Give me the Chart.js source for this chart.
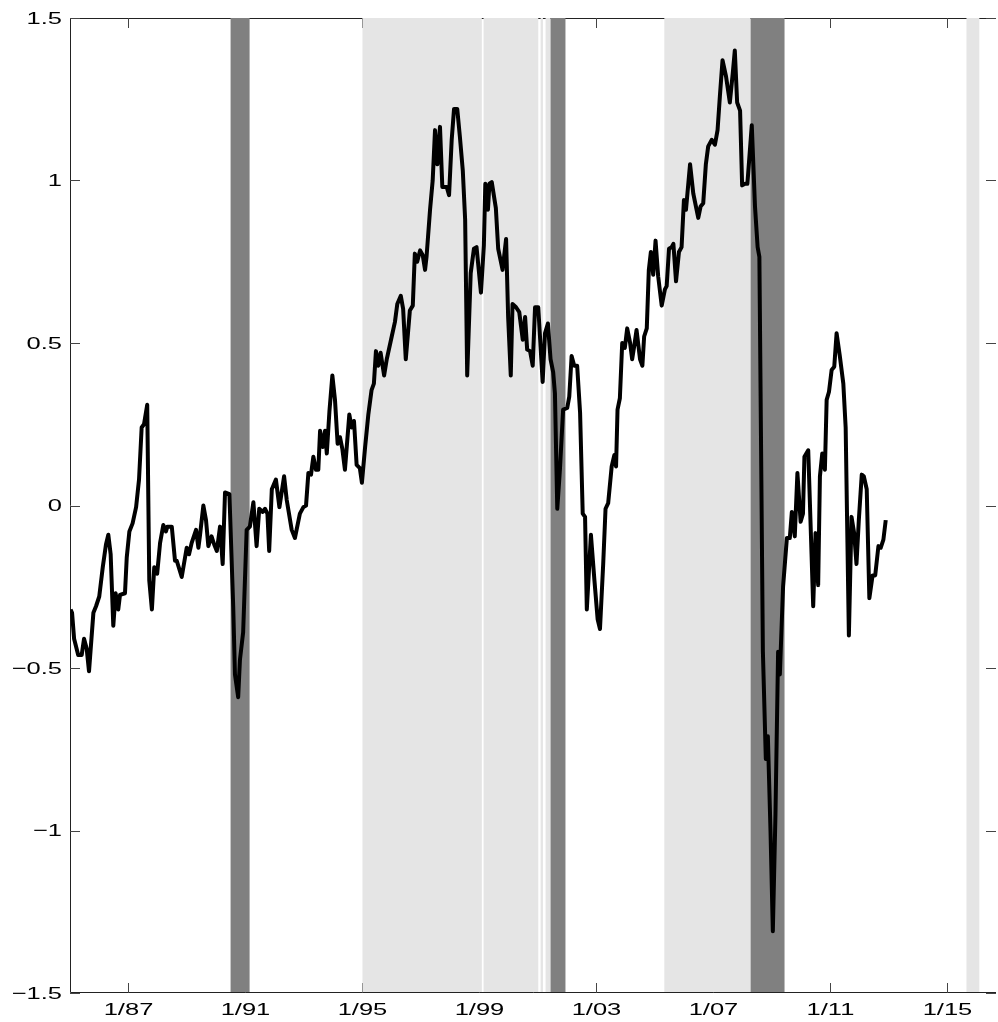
<!DOCTYPE html>
<html>
<head>
<meta charset="utf-8">
<script src="https://cdn.jsdelivr.net/npm/chart.js@4/dist/chart.umd.min.js"></script>
<style>
    html, body { margin: 0; padding: 0; background: #fff; }
    #wrap { width: 998px; height: 1022px; }
</style>
</head>
<body>
<div id="wrap"><canvas id="myChart"></canvas></div>
<script>
// series (decimal years)
const dates = [
    1985.02, 1985.07, 1985.14, 1985.28, 1985.40, 1985.48, 1985.57, 1985.65, 1985.80, 1985.89,
    1986.00, 1986.12, 1986.23, 1986.31, 1986.39, 1986.48, 1986.56, 1986.65, 1986.71, 1986.88,
    1986.94, 1987.03, 1987.14, 1987.26, 1987.36, 1987.45, 1987.53, 1987.64, 1987.71, 1987.80,
    1987.88, 1987.98, 1988.08, 1988.19, 1988.28, 1988.33, 1988.48, 1988.59, 1988.65, 1988.82,
    1988.99, 1989.07, 1989.16, 1989.31, 1989.39, 1989.44, 1989.56, 1989.65, 1989.73, 1989.84,
    1989.93, 1990.02, 1990.13, 1990.22, 1990.30, 1990.45, 1990.58, 1990.64, 1990.75, 1990.81,
    1990.92, 1991.04, 1991.15, 1991.27, 1991.38, 1991.47, 1991.59, 1991.67, 1991.75, 1991.81,
    1991.90, 1992.04, 1992.16, 1992.32, 1992.41, 1992.58, 1992.69, 1992.86, 1992.98, 1993.07,
    1993.15, 1993.24, 1993.32, 1993.41, 1993.49, 1993.55, 1993.64, 1993.72, 1993.78, 1993.87,
    1993.97, 1994.06, 1994.15, 1994.23, 1994.31, 1994.40, 1994.55, 1994.63, 1994.71, 1994.80,
    1994.91, 1994.98, 1995.09, 1995.20, 1995.31, 1995.39, 1995.46, 1995.54, 1995.62, 1995.74,
    1995.83, 1996.00, 1996.11, 1996.19, 1996.31, 1996.39, 1996.48, 1996.62, 1996.72, 1996.79,
    1996.87, 1996.97, 1997.06, 1997.14, 1997.19, 1997.31, 1997.40, 1997.48, 1997.56, 1997.65,
    1997.73, 1997.88, 1997.96, 1998.05, 1998.13, 1998.24, 1998.33, 1998.43, 1998.51, 1998.58,
    1998.70, 1998.81, 1998.90, 1999.05, 1999.15, 1999.20, 1999.29, 1999.34, 1999.42, 1999.56,
    1999.64, 1999.79, 1999.91, 1999.98, 2000.07, 2000.13, 2000.25, 2000.36, 2000.48, 2000.56,
    2000.63, 2000.73, 2000.82, 2000.90, 2001.01, 2001.16, 2001.24, 2001.34, 2001.43, 2001.52,
    2001.58, 2001.66, 2001.75, 2001.86, 2002.00, 2002.07, 2002.15, 2002.24, 2002.34, 2002.44,
    2002.53, 2002.61, 2002.67, 2002.81, 2002.93, 2003.04, 2003.12, 2003.23, 2003.31, 2003.40,
    2003.52, 2003.61, 2003.67, 2003.72, 2003.80, 2003.88, 2003.97, 2004.05, 2004.15, 2004.22,
    2004.29, 2004.37, 2004.49, 2004.57, 2004.63, 2004.72, 2004.79, 2004.86, 2004.94, 2005.02,
    2005.11, 2005.23, 2005.34, 2005.40, 2005.48, 2005.57, 2005.63, 2005.72, 2005.82, 2005.91,
    2005.99, 2006.06, 2006.14, 2006.20, 2006.31, 2006.48, 2006.56, 2006.65, 2006.74, 2006.82,
    2006.94, 2007.05, 2007.14, 2007.22, 2007.31, 2007.43, 2007.56, 2007.66, 2007.73, 2007.81,
    2007.91, 2007.98, 2008.08, 2008.16, 2008.31, 2008.42, 2008.51, 2008.57, 2008.69, 2008.79,
    2008.86, 2008.95, 2009.03, 2009.12, 2009.21, 2009.27, 2009.38, 2009.51, 2009.61, 2009.68,
    2009.78, 2009.87, 2009.98, 2010.06, 2010.11, 2010.24, 2010.41, 2010.49, 2010.58, 2010.64,
    2010.72, 2010.81, 2010.87, 2010.95, 2011.04, 2011.13, 2011.21, 2011.32, 2011.44, 2011.52,
    2011.63, 2011.72, 2011.81, 2011.89, 2011.97, 2012.07, 2012.14, 2012.24, 2012.33, 2012.44,
    2012.53, 2012.64, 2012.72, 2012.81, 2012.89
];
const values = [
    -0.32, -0.33, -0.41, -0.46, -0.46, -0.41, -0.44, -0.51, -0.33, -0.31,
    -0.28, -0.19, -0.12, -0.09, -0.15, -0.37, -0.27, -0.32, -0.275, -0.27,
    -0.16, -0.08, -0.055, -0.005, 0.08, 0.24, 0.25, 0.31, -0.23, -0.32,
    -0.19, -0.21, -0.115, -0.06, -0.08, -0.065, -0.065, -0.17, -0.17, -0.22,
    -0.13, -0.15, -0.115, -0.075, -0.13, -0.095, 0.0, -0.045, -0.125, -0.095,
    -0.12, -0.14, -0.065, -0.18, 0.04, 0.035, -0.31, -0.52, -0.59, -0.475,
    -0.39, -0.075, -0.065, 0.01, -0.125, -0.01, -0.02, -0.01, -0.025, -0.14,
    0.05, 0.08, -0.005, 0.09, 0.017, -0.075, -0.1, -0.025, -0.005, 0.0,
    0.1, 0.095, 0.15, 0.11, 0.11, 0.23, 0.18, 0.23, 0.16, 0.29,
    0.40, 0.325, 0.19, 0.21, 0.175, 0.11, 0.28, 0.24, 0.26, 0.125,
    0.115, 0.07, 0.18, 0.28, 0.355, 0.375, 0.475, 0.43, 0.47, 0.40,
    0.45, 0.52, 0.565, 0.62, 0.645, 0.605, 0.45, 0.60, 0.615, 0.775,
    0.75, 0.785, 0.77, 0.725, 0.765, 0.91, 1.0, 1.155, 1.05, 1.165,
    0.98, 0.98, 0.955, 1.125, 1.22, 1.22, 1.135, 1.03, 0.88, 0.40,
    0.715, 0.79, 0.795, 0.655, 0.80, 0.99, 0.91, 0.99, 0.995, 0.915,
    0.79, 0.725, 0.82, 0.58, 0.40, 0.62, 0.61, 0.595, 0.51, 0.58,
    0.48, 0.475, 0.43, 0.61, 0.61, 0.38, 0.53, 0.56, 0.45, 0.41,
    0.345, -0.01, 0.11, 0.295, 0.30, 0.335, 0.46, 0.43, 0.43, 0.285,
    -0.025, -0.035, -0.32, -0.09, -0.23, -0.35, -0.38, -0.18, -0.01, 0.007,
    0.12, 0.155, 0.12, 0.295, 0.33, 0.50, 0.485, 0.545, 0.50, 0.45,
    0.49, 0.54, 0.45, 0.43, 0.52, 0.545, 0.725, 0.78, 0.71, 0.815,
    0.705, 0.615, 0.665, 0.675, 0.79, 0.795, 0.805, 0.69, 0.78, 0.795,
    0.94, 0.91, 0.99, 1.05, 0.96, 0.885, 0.92, 0.93, 1.05, 1.105,
    1.125, 1.11, 1.155, 1.26, 1.37, 1.32, 1.24, 1.33, 1.40, 1.24,
    1.215, 0.985, 0.99, 0.99, 1.17, 0.92, 0.795, 0.765, -0.45, -0.78,
    -0.71, -1.0, -1.31, -0.95, -0.45, -0.52, -0.25, -0.1, -0.1, -0.02,
    -0.095, 0.10, -0.05, -0.025, 0.15, 0.17, -0.31, -0.085, -0.245, 0.09,
    0.16, 0.11, 0.325, 0.35, 0.417, 0.427, 0.53, 0.46, 0.375, 0.24,
    -0.40, -0.035, -0.085, -0.18, -0.045, 0.095, 0.09, 0.05, -0.285, -0.215,
    -0.215, -0.125, -0.13, -0.105, -0.045
];

// shaded periods
const bandStart = [1990.49, 1995.00, 1999.14, 2001.09, 2001.26, 2001.43, 2005.32, 2008.27, 2015.65];
const bandEnd   = [1991.14, 1999.08, 2001.01, 2001.17, 2001.43, 2001.94, 2008.27, 2009.43, 2016.09];
const bandShade = ['dark', 'light', 'light', 'light', 'light', 'dark', 'light', 'dark', 'light'];

// axis ticks
const xTicks = [1987, 1991, 1995, 1999, 2003, 2007, 2011, 2015];
const xTickLabels = ['1/87', '1/91', '1/95', '1/99', '1/03', '1/07', '1/11', '1/15'];
const yTicks = [-1.5, -1, -0.5, 0, 0.5, 1, 1.5];
const yTickLabels = ['\u22121.5', '\u22121', '\u22120.5', '0', '0.5', '1', '1.5'];

const shadeColors = { light: '#e5e5e5', dark: '#808080' };
const labelFont = '17px "Liberation Sans", Arial, sans-serif';
const labelStretch = 1.5;   // the reference text is drawn wide

const points = dates.map((d, i) => ({ x: d, y: values[i] }));

// frame, inward ticks, then the shading on top of the frame
const bandsPlugin = {
    id: 'bands',
    beforeDatasetsDraw(chart) {
        const ctx = chart.ctx;
        const area = chart.chartArea;
        const xs = chart.scales.x;
        const ys = chart.scales.y;
        ctx.save();

        ctx.strokeStyle = '#222';
        ctx.lineWidth = 1;
        ctx.beginPath();
        ctx.moveTo(area.left + 0.5, area.top + 0.5);
        ctx.lineTo(area.left + 0.5, area.bottom - 0.5);
        ctx.lineTo(area.right, area.bottom - 0.5);
        ctx.moveTo(area.left, area.top + 0.5);
        ctx.lineTo(area.right, area.top + 0.5);
        ctx.stroke();

        ctx.strokeStyle = '#444';
        xTicks.forEach(t => {
            const px = Math.round(xs.getPixelForValue(t)) + 0.5;
            ctx.beginPath();
            ctx.moveTo(px, area.bottom);
            ctx.lineTo(px, area.bottom - 10);
            ctx.moveTo(px, area.top);
            ctx.lineTo(px, area.top + 10);
            ctx.stroke();
        });
        yTicks.forEach(t => {
            const py = Math.round(ys.getPixelForValue(t)) + 0.5;
            ctx.beginPath();
            ctx.moveTo(area.left, py);
            ctx.lineTo(area.left + 10, py);
            ctx.moveTo(area.right, py);
            ctx.lineTo(area.right - 10, py);
            ctx.stroke();
        });

        bandStart.forEach((s, i) => {
            const x0 = xs.getPixelForValue(s);
            const x1 = xs.getPixelForValue(bandEnd[i]);
            ctx.fillStyle = shadeColors[bandShade[i]];
            ctx.fillRect(x0, area.top, x1 - x0, area.bottom - area.top - 1);
        });
        ctx.restore();
    },
    // tick labels, stretched sideways like the reference
    afterDraw(chart) {
        const ctx = chart.ctx;
        const area = chart.chartArea;
        const xs = chart.scales.x;
        const ys = chart.scales.y;
        ctx.save();
        ctx.font = labelFont;
        ctx.fillStyle = '#000';

        ctx.textAlign = 'right';
        ctx.textBaseline = 'middle';
        yTicks.forEach((t, i) => {
            ctx.save();
            ctx.translate(area.left - 8, ys.getPixelForValue(t) + 1);
            ctx.scale(labelStretch, 1);
            ctx.fillText(yTickLabels[i], 0, 0);
            ctx.restore();
        });

        ctx.textAlign = 'center';
        ctx.textBaseline = 'top';
        xTicks.forEach((t, i) => {
            ctx.save();
            ctx.translate(xs.getPixelForValue(t), area.bottom + 9);
            ctx.scale(labelStretch, 1);
            ctx.fillText(xTickLabels[i], 0, 0);
            ctx.restore();
        });
        ctx.restore();
    }
};

const ctx = document.getElementById('myChart').getContext('2d');
const myChart = new Chart(ctx, {
    type: 'line',
    data: {
        datasets: [{
            data: points,
            borderColor: '#000',
            borderWidth: 4,
            borderJoinStyle: 'round',
            pointRadius: 0,
            tension: 0,
            fill: false
        }]
    },
    options: {
        responsive: true,
        maintainAspectRatio: false,
        animation: false,
        layout: { padding: { top: 18, right: 2, left: 0, bottom: 0 } },
        plugins: {
            legend: { display: false },
            tooltip: { enabled: false }
        },
        scales: {
            x: {
                type: 'linear',
                min: 1985,
                max: 2016.66,
                grid: { display: false },
                border: { display: false },
                afterBuildTicks: scale => { scale.ticks = xTicks.map(v => ({ value: v })); },
                afterFit: scale => { scale.height = 29; },
                ticks: { display: false }
            },
            y: {
                min: -1.5,
                max: 1.5,
                grid: { display: false },
                border: { display: false },
                afterBuildTicks: scale => { scale.ticks = yTicks.map(v => ({ value: v })); },
                afterFit: scale => { scale.width = 70; },
                ticks: { display: false }
            }
        }
    },
    plugins: [bandsPlugin]
});
</script>
</body>
</html>
